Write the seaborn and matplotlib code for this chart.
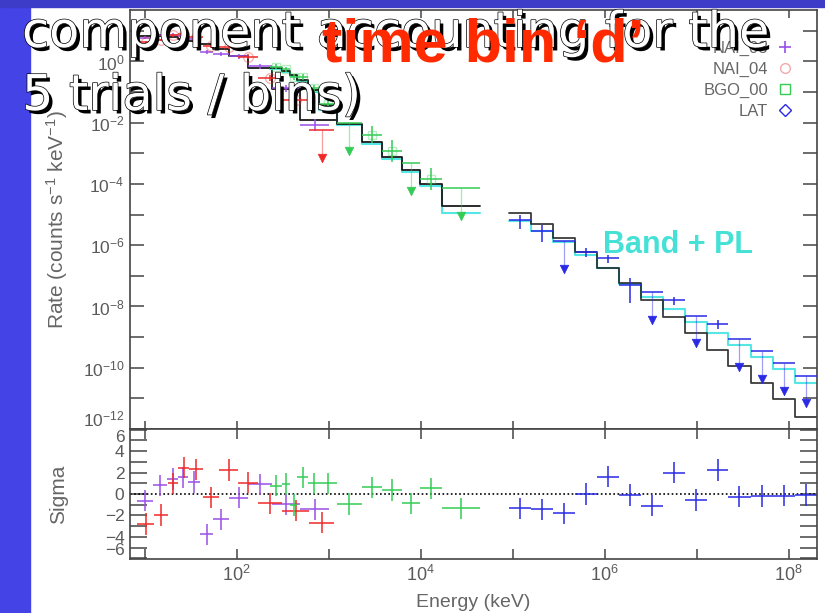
import numpy as np
import matplotlib
matplotlib.use("Agg")
import matplotlib.pyplot as plt
import seaborn as sns
import pandas as pd
from matplotlib.lines import Line2D
from matplotlib.patches import Rectangle
import matplotlib.patheffects as pe
from matplotlib.ticker import FixedLocator, FixedFormatter, NullLocator

# ---------------- data ----------------
# NAI_03 (purple)
nai03_edges = [8.24, 12.3, 17.5, 23.0, 29.6, 39.9, 55.2, 82.4, 133, 242, 488, 1007]
nai03_rate = [6.07, 7.48, 7.60, 6.70, 5.38, 2.07, 1.76, 1.46, 0.687, 0.134, 0.0083]
nai03_err = [0.04, 0.04, 0.04, 0.04, 0.05, 0.06, 0.06, 0.07, 0.08, 0.12, 0.2]
nai03_ul = [0, 0, 0, 0, 0, 0, 0, 0, 0, 0, 0]
nai03_sigma = [-0.62, 0.81, 1.40, 1.55, 1.12, -3.75, -2.36, -0.34, 0.90, -0.96, -1.43]

# NAI_04 (red)
nai04_edges = [8.24, 12.6, 17.9, 23.0, 30.3, 43.0, 64.2, 103, 171, 311, 611, 1143]
nai04_rate = [4.37, 4.95, 7.16, 7.66, 6.21, 3.11, 3.02, 1.44, 0.290, 0.0542, 0.00569]
nai04_err = [0.04, 0.04, 0.04, 0.04, 0.05, 0.05, 0.06, 0.07, 0.09, 0.13, 0.0]
nai04_ul = [0, 0, 0, 0, 0, 0, 0, 0, 0, 0, 1]
nai04_sigma = [-2.79, -1.95, 0.99, 2.45, 2.29, -0.31, 2.23, 1.05, -0.87, -1.55, -2.67]

# BGO_00 (green)
bgo_edges = [230, 311, 380, 452, 595, 785, 1222, 2284, 3770, 6210, 9820, 16900, 44100]
bgo_rate = [0.676, 0.552, 0.305, 0.308, 0.134, 0.0423, 0.00984, 0.00412, 0.00120,
            4.67e-4, 1.44e-4, 7.13e-5]
bgo_err = [0.08, 0.08, 0.10, 0.10, 0.12, 0.15, 0.0, 0.28, 0.35, 0.0, 0.35, 0.0]
bgo_ul = [0, 0, 0, 0, 0, 0, 1, 0, 0, 1, 0, 1]
bgo_sigma = [0.78, 0.93, -1.02, 1.55, 0.99, 0.99, -0.93, 0.62, 0.37, -0.87, 0.53, -1.33]

# LAT (blue)
lat_edges = [9.18e4, 1.58e5, 2.72e5, 4.75e5, 8.18e5, 1.44e6, 2.48e6, 4.27e6, 7.46e6,
             1.29e7, 2.20e7, 3.86e7, 6.81e7, 1.17e8, 2.01e8]
lat_rate = [6.59e-6, 2.95e-6, 1.36e-6, 5.82e-7, 3.72e-7, 4.99e-8, 2.88e-8, 1.62e-8,
            4.98e-9, 2.61e-9, 8.63e-10, 3.51e-10, 1.39e-10, 5.50e-11]
lat_err_hi = [0.163, 0.186, 0.0, 0.131, 0.107, 0.219, 0.0, 0.106, 0.0, 0.14, 0, 0, 0, 0]
lat_err_lo = [0.304, 0.359, 0.0, 0.163, 0.164, 0.598, 0.0, 0.164, 0.0, 0.163, 0, 0, 0, 0]
lat_ul = [0, 0, 1, 0, 0, 0, 1, 0, 1, 0, 1, 1, 1, 1]
lat_sigma = [-1.33, -1.43, -1.80, 0.0, 1.61, -0.09, -1.09, 1.98, -0.56, 2.23, -0.25,
             -0.19, -0.16, -0.09]

# folded models: black (Band) and cyan (Band + PL)
nai_model_edges = [8.24, 12.3, 17.5, 23.0, 29.6, 39.9, 55.2, 82.4, 133, 242, 488, 1222]
nai_model_black = [6.64, 6.64, 6.17, 5.30, 4.56, 3.64, 2.50, 1.53, 0.600, 0.124, 0.0121]
bgo_model_black = [0.600, 0.479, 0.355, 0.244, 0.115, 0.0372, 0.00942, 0.00237, 7.66e-4,
                   2.97e-4, 9.84e-5, 1.89e-5]
bgo_model_cyan = [0.557, 0.445, 0.329, 0.226, 0.0989, 0.0256, 0.00828, 0.00199, 6.44e-4,
                  2.48e-4, 8.67e-5, 1.09e-5]
lat_model_black = [1.09e-5, 4.90e-6, 1.74e-6, 5.82e-7, 1.75e-7, 5.68e-8, 1.62e-8, 4.61e-9,
                   1.32e-9, 3.80e-10, 1.16e-10, 3.24e-11, 9.33e-12, 2.51e-12]
lat_model_cyan = [6.25e-6, 2.95e-6, 1.29e-6, 4.75e-7, 1.75e-7, 5.38e-8, 2.07e-8, 8.04e-9,
                  3.17e-9, 1.32e-9, 5.51e-10, 2.18e-10, 8.87e-11, 3.24e-11]

legend_labels = ["NAI_03", "NAI_04", "BGO_00", "LAT"]
x_tick_exp = [1, 2, 3, 4, 5, 6, 7, 8]
y_tick_exp = list(range(-12, 2))
sigma_ticks = list(range(-6, 7))

# ---------------- style ----------------
sns.set_theme(style="ticks")
plt.rcParams["font.family"] = ["Liberation Sans", "DejaVu Sans"]
plt.rcParams["mathtext.fontset"] = "custom"
plt.rcParams["mathtext.rm"] = "Liberation Sans"
plt.rcParams["mathtext.it"] = "Liberation Sans:italic"
plt.rcParams["mathtext.default"] = "regular"

C_PUR, C_RED, C_GRN, C_BLU = "#9A4FE6", "#F02828", "#33CC55", "#2A2AE6"
C_CYAN, C_BLK = "#55E6E6", "#1A1A1A"
FRAME, TXT = "#444444", "#5a5a5a"

W, H = 825, 613
fig = plt.figure(figsize=(W / 100, H / 100), dpi=100)
fig.patch.set_facecolor("white")
fig.patches.append(Rectangle((0, 0), 30 / W, 1, transform=fig.transFigure,
                             color="#4343E6", zorder=0))
fig.patches.append(Rectangle((0, 1 - 7 / H), 1, 7 / H, transform=fig.transFigure,
                             color="#3C3CC8", zorder=0))

L, R = 130, 817
ax = fig.add_axes([L / W, 1 - 429 / H, (R - L) / W, (429 - 10) / H])
axr = fig.add_axes([L / W, 1 - 559 / H, (R - L) / W, 130 / H], sharex=ax)
ax.set_xscale("log")
ax.set_yscale("log")
ax.set_xlim(6.9, 2.03e8)
ax.set_ylim(1e-12, 48)
axr.set_ylim(-6.05, 6.05)


def steps(a, edges, levels, color, lw=1.3, alpha=1.0):
    df = pd.DataFrame({"E": list(edges), "R": list(levels) + [levels[-1]]})
    sns.lineplot(data=df, x="E", y="R", drawstyle="steps-post", estimator=None,
                 sort=False, color=color, lw=lw, alpha=alpha, ax=a, legend=False)


def spectrum(a, edges, rate, elo, ehi, ul, color, marker=None, ms=6):
    e = np.asarray(edges, float)
    lo, hi = e[:-1], e[1:]
    c = np.sqrt(lo * hi)
    r = np.asarray(rate, float)
    u = np.asarray(ul, bool)
    d = ~u
    elo = np.asarray(elo, float)
    ehi = np.asarray(ehi, float)
    if d.any():
        a.errorbar(c[d], r[d], xerr=[c[d] - lo[d], hi[d] - c[d]],
                   yerr=[r[d] - r[d] * 10 ** (-elo[d]), r[d] * 10 ** ehi[d] - r[d]],
                   fmt="none", ecolor=color, elinewidth=1.1, zorder=3)
        if marker is not None:
            a.plot(c[d], r[d], ls="none", marker=marker, mfc="none", mec=color,
                   ms=ms, alpha=0.35, zorder=3)
    if u.any():
        a.errorbar(c[u], r[u], xerr=[c[u] - lo[u], hi[u] - c[u]], fmt="none",
                   ecolor=color, elinewidth=1.1, zorder=3)
        a.vlines(c[u], r[u] * 10 ** -0.9, r[u], color=color, lw=0.9, alpha=0.45, zorder=3)
        sns.scatterplot(x=c[u], y=r[u] * 10 ** -0.9, marker="v", color=color,
                        edgecolor=color, s=38, ax=a, zorder=4, legend=False)


def resid(a, edges, sig, color):
    e = np.asarray(edges, float)
    lo, hi = e[:-1], e[1:]
    c = np.sqrt(lo * hi)
    a.errorbar(c, sig, xerr=[c - lo, hi - c], yerr=1.0, fmt="none", ecolor=color,
               elinewidth=1.1)


# models
steps(ax, nai_model_edges, nai_model_black, C_BLK)
steps(ax, bgo_edges, bgo_model_cyan, C_CYAN, lw=1.5)
steps(ax, bgo_edges, bgo_model_black, C_BLK)
steps(ax, lat_edges, lat_model_cyan, C_CYAN, lw=1.5)
steps(ax, lat_edges, lat_model_black, C_BLK, alpha=0.85)

# data
spectrum(ax, nai03_edges, nai03_rate, nai03_err, nai03_err, nai03_ul, C_PUR)
spectrum(ax, nai04_edges, nai04_rate, nai04_err, nai04_err, nai04_ul, C_RED, marker="o", ms=7)
spectrum(ax, bgo_edges, bgo_rate, bgo_err, bgo_err, bgo_ul, C_GRN, marker="s", ms=6)
spectrum(ax, lat_edges, lat_rate, lat_err_lo, lat_err_hi, lat_ul, C_BLU)

# residuals
axr.axhline(0, color="black", ls=(0, (1, 1.5)), lw=1.2, zorder=1)
resid(axr, nai03_edges, nai03_sigma, C_PUR)
resid(axr, nai04_edges, nai04_sigma, C_RED)
resid(axr, bgo_edges, bgo_sigma, C_GRN)
resid(axr, lat_edges, lat_sigma, C_BLU)

# ---------------- axes cosmetics ----------------
for a in (ax, axr):
    for s in a.spines.values():
        s.set_color(FRAME)
        s.set_linewidth(1.2)
    a.set_facecolor("white")

xt = [10.0 ** k for k in x_tick_exp]
xl = [(r"$10^{%d}$" % k) if k % 2 == 0 else "" for k in x_tick_exp]
for a in (ax, axr):
    a.xaxis.set_major_locator(FixedLocator(xt))
    a.xaxis.set_major_formatter(FixedFormatter(xl))
    a.xaxis.set_minor_locator(NullLocator())

yt = [10.0 ** k for k in y_tick_exp]
yl = [(r"$10^{%d}$" % k) if k % 2 == 0 else "" for k in y_tick_exp]
ax.yaxis.set_major_locator(FixedLocator(yt))
ax.yaxis.set_major_formatter(FixedFormatter(yl))
ax.yaxis.set_minor_locator(NullLocator())

axr.yaxis.set_major_locator(FixedLocator(sigma_ticks))
axr.yaxis.set_major_formatter(FixedFormatter(
    [(str(v).replace("-", "\u2212") if v % 2 == 0 else "") for v in sigma_ticks]))
axr.yaxis.set_minor_locator(NullLocator())

ax.tick_params(axis="x", which="both", direction="in", top=True, bottom=True,
               length=6, width=1.1, color=FRAME, labelbottom=False)
ax.tick_params(axis="y", which="both", direction="in", left=True, right=True,
               length=10, width=1.1, color=FRAME, labelsize=12.5, labelcolor=TXT, pad=4)
axr.tick_params(axis="x", which="both", direction="in", top=True, bottom=True,
                length=7, width=1.1, color=FRAME, labelsize=13, labelcolor=TXT, pad=4)
axr.tick_params(axis="y", which="both", direction="in", left=True, right=True,
                length=12, width=1.1, color=FRAME, labelsize=12.5, labelcolor=TXT, pad=4)

ax.set_xlabel("")
ax.set_ylabel("Rate (counts s$^{-1}$ keV$^{-1}$)", fontsize=15, color="#666666")
ax.yaxis.set_label_coords(-0.088, 0.5)
axr.set_ylabel("Sigma", fontsize=15, color="#666666")
axr.yaxis.set_label_coords(-0.090, 0.5)
axr.set_xlabel("Energy (keV)", fontsize=14, color="#666666")
axr.xaxis.set_label_coords(0.5, -0.27)

# edge labels shifted inward, as in the original
yticks_top = ax.yaxis.get_major_ticks()
yticks_top[0].label1.set_va("bottom")
rt = axr.yaxis.get_major_ticks()
rt[0].label1.set_va("bottom")
rt[-1].label1.set_va("top")

# legend (label first, marker after)
handles = [
    Line2D([], [], ls="none", marker="+", color=C_PUR, ms=9, mew=1.2),
    Line2D([], [], ls="none", marker="o", mfc="none", mec="#F2AAAA", ms=7, mew=1.0),
    Line2D([], [], ls="none", marker="s", mfc="none", mec=C_GRN, ms=7, mew=1.0),
    Line2D([], [], ls="none", marker="D", mfc="none", mec=C_BLU, ms=6, mew=1.0),
]
leg = ax.legend(handles, legend_labels, loc="upper right", markerfirst=False,
                frameon=False, fontsize=12, labelcolor="#666666", handlelength=1.0,
                handletextpad=0.5, labelspacing=0.35, borderpad=0, borderaxespad=0,
                bbox_to_anchor=((793 - L) / (R - L), 1 - (41 - 10) / 419))

# ---------------- overlaid slide text ----------------
white_fx = [pe.SimplePatchShadow(offset=(2.5, -2.5), shadow_rgbFace="black", alpha=1.0),
            pe.Stroke(linewidth=1.0, foreground="black"), pe.Normal()]
fig.text(22 / W, 1 - 47 / H, "component accounting for the", color="white",
         fontsize=35.5, family="DejaVu Sans", va="baseline", ha="left",
         path_effects=white_fx, zorder=10)
fig.text(22 / W, 1 - 110 / H, "5 trials / bins)", color="white",
         fontsize=35.5, family="DejaVu Sans", va="baseline", ha="left",
         path_effects=white_fx, zorder=10)
fig.text(322 / W, 1 - 62 / H, "time bin \u2018d\u2019", color="#FF2A00",
         fontsize=44, fontweight="bold", family="Liberation Sans",
         va="baseline", ha="left", zorder=11)
fig.text(678 / W, 1 - 245 / H, "Band + PL", color="#45E0D6", fontsize=22,
         fontweight="bold", family="Liberation Sans", va="center", ha="center",
         zorder=11)

fig.savefig("out.png", dpi=100)
